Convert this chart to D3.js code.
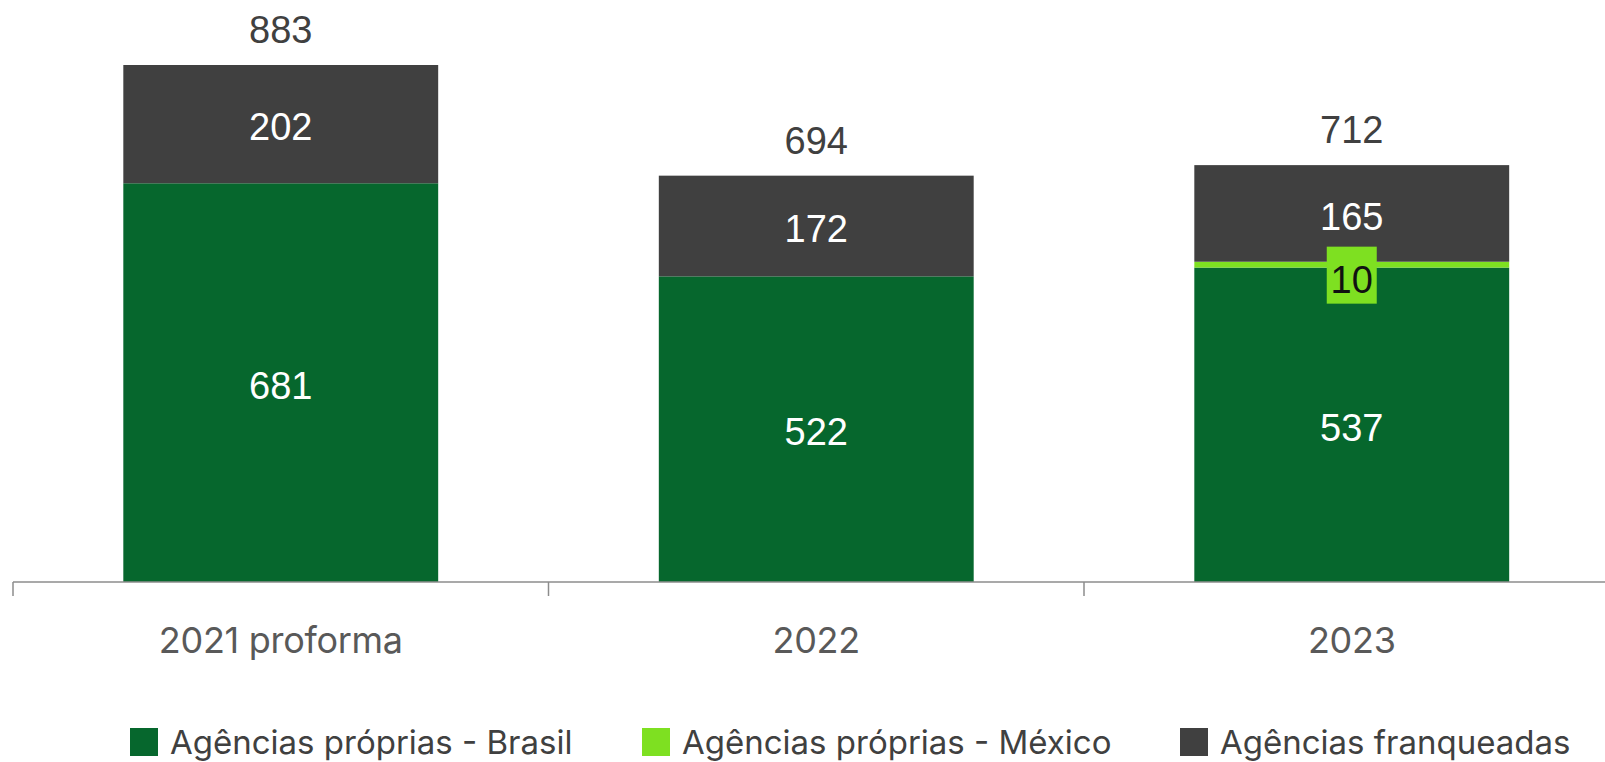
<!DOCTYPE html>
<html>
<head>
<meta charset="utf-8">
<script src="https://cdn.jsdelivr.net/npm/d3@7"></script>
<style>
  html, body { margin: 0; padding: 0; background: #fff; }
  svg { display: block; }
</style>
</head>
<body>
<svg id="chart" width="1605" height="762"></svg>
<script>
const categories = ["2021 proforma", "2022", "2023"];
const seriesNames = ["Agências próprias - Brasil", "Agências próprias - México", "Agências franqueadas"];
const brasil = [681, 522, 537];
const mexico = [0, 0, 10];
const franqueadas = [202, 172, 165];
const totals = [883, 694, 712];
const colors = ["#06672d", "#7ee021", "#404040"];

const svg = d3.select("#chart");
const W = 1605, H = 762;
const baseY = 582;

const x = d3.scaleBand().domain(categories).range([13, 13 + 3 * 535.5]).paddingInner(0.412).paddingOuter(0.206);
const y = d3.scaleLinear().domain([0, 883]).range([baseY, 65]);

const data = categories.map((c, i) => ({ cat: c, brasil: brasil[i], mexico: mexico[i], franqueadas: franqueadas[i], total: totals[i] }));
const keys = ["brasil", "mexico", "franqueadas"];
const stack = d3.stack().keys(keys)(data);

const g = svg.append("g");
stack.forEach((layer, li) => {
  g.selectAll(null).data(layer).join("rect")
    .attr("x", d => x(d.data.cat))
    .attr("width", x.bandwidth())
    .attr("y", d => y(d[1]))
    .attr("height", d => Math.max(0, y(d[0]) - y(d[1])))
    .attr("fill", colors[li]);
});

const numFont = "'Liberation Sans', Arial, sans-serif";
const txtFont = "Inter, 'Open Sans', sans-serif";
const numSize = 38;

// segment labels
stack.forEach((layer, li) => {
  layer.forEach(d => {
    const v = d[1] - d[0];
    if (v <= 0) return;
    const cx = x(d.data.cat) + x.bandwidth() / 2;
    const cy = (y(d[0]) + y(d[1])) / 2;
    if (keys[li] === "mexico") {
      g.append("rect").attr("x", cx - 25).attr("y", cy - 18).attr("width", 50).attr("height", 57)
        .attr("fill", colors[1]);
      g.append("text").attr("x", cx).attr("y", cy + 15).attr("dy", "0.35em")
        .attr("text-anchor", "middle").attr("font-family", numFont).attr("font-size", numSize)
        .attr("fill", "#111").text(v);
    } else {
      g.append("text").attr("x", cx).attr("y", cy + 3).attr("dy", "0.35em")
        .attr("text-anchor", "middle").attr("font-family", numFont).attr("font-size", numSize)
        .attr("fill", "#ffffff").text(v);
    }
  });
});

// totals
g.selectAll(".tot").data(data).join("text")
  .attr("x", d => x(d.cat) + x.bandwidth() / 2)
  .attr("y", d => y(d.total) - 35)
  .attr("dy", "0.35em")
  .attr("text-anchor", "middle").attr("font-family", numFont).attr("font-size", numSize)
  .attr("fill", "#404040").text(d => d.total);

// axis
const ax = svg.append("g").attr("transform", `translate(0,${baseY})`);
ax.append("line").attr("x1", 13).attr("x2", W).attr("y1", 0).attr("y2", 0)
  .attr("stroke", "#8c8c8c").attr("stroke-width", 1.5);
const bounds = [0, 1, 2].map(i => 13 + i * 535.5);
ax.selectAll(".tk").data(bounds).join("line")
  .attr("x1", d => d).attr("x2", d => d).attr("y1", 0).attr("y2", 14)
  .attr("stroke", "#8c8c8c").attr("stroke-width", 1.5);
ax.selectAll(".lbl").data(categories).join("text")
  .attr("x", d => x(d) + x.bandwidth() / 2)
  .attr("y", 71)
  .attr("text-anchor", "middle").attr("font-family", txtFont).attr("font-size", 36)
  .attr("letter-spacing", -0.3)
  .attr("fill", "#595959").text(d => d);

// legend
const legX = [130, 642, 1180];
const leg = svg.append("g");
seriesNames.forEach((n, i) => {
  leg.append("rect").attr("x", legX[i]).attr("y", 728).attr("width", 28).attr("height", 28).attr("fill", colors[i]);
  leg.append("text").attr("x", legX[i] + 40).attr("y", 754).attr("font-family", txtFont).attr("font-size", 33)
    .attr("fill", "#404040").text(n);
});
</script>
</body>
</html>
